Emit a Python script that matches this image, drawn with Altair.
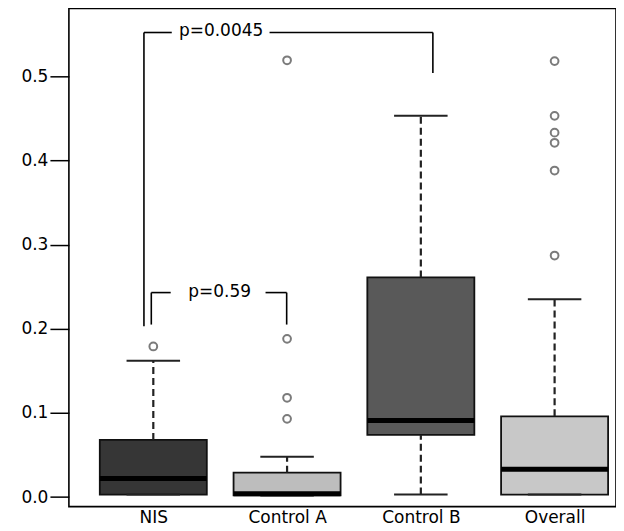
import altair as alt
import pandas as pd

# ---- data ----
groups = ["NIS", "Control A", "Control B", "Overall"]
q1 = [0.003, 0.002, 0.074, 0.003]
median = [0.022, 0.004, 0.091, 0.033]
q3 = [0.068, 0.029, 0.261, 0.096]
whisker_low = [0.003, 0.002, 0.003, 0.003]
whisker_high = [0.162, 0.048, 0.453, 0.235]
fills = ["#363636", "#bdbdbd", "#595959", "#c8c8c8"]
outliers = [
    [0.179],
    [0.093, 0.118, 0.188, 0.519],
    [],
    [0.287, 0.388, 0.421, 0.433, 0.453, 0.518],
]

# significance brackets
br_label = ["p=0.0045", "p=0.59"]
br_x1 = [0.93, 0.985]
br_x2 = [3.09, 1.997]
br_y = [0.552, 0.243]
br_left_end = [0.203, 0.205]
br_right_end = [0.504, 0.205]
br_text_x = [1.507, 1.496]
br_gap_lo = [1.138, 1.130]
br_gap_hi = [1.869, 1.839]

# ---- tables ----
pos = list(range(1, len(groups) + 1))
boxes = pd.DataFrame({
    "group": groups, "pos": pos, "q1": q1, "median": median, "q3": q3,
    "lo": whisker_low, "hi": whisker_high, "fill": fills,
})
pts = pd.DataFrame(
    [{"pos": p, "value": v} for p, vals in zip(pos, outliers) for v in vals]
)
legs = pd.DataFrame({
    "x": br_x1 + br_x2,
    "y": br_y + br_y,
    "y2": br_left_end + br_right_end,
})
hsegs = pd.DataFrame({
    "x": br_x1 + br_gap_hi,
    "x2": br_gap_lo + br_x2,
    "y": br_y + br_y,
})
labels = pd.DataFrame({"x": br_text_x, "y": br_y, "label": br_label})

XDOM = [0.369, 4.459]
YDOM = [-0.0113, 0.5806]
FONT = "DejaVu Sans"
FS = 17

label_expr = "{" + ",".join(f"'{p}':'{g}'" for p, g in zip(pos, groups)) + "}[datum.value]"

x_axis = alt.Axis(values=pos, labelExpr=label_expr, title=None,
                  domain=False, ticks=False, grid=False,
                  labelFontSize=FS, labelFont=FONT, labelColor="black",
                  labelPadding=3)
y_axis = alt.Axis(values=[0, 0.1, 0.2, 0.3, 0.4, 0.5], format=".1f",
                  title=None, domain=False, grid=False,
                  tickSize=19, tickColor="black", tickWidth=1.5,
                  labelFontSize=FS, labelFont=FONT, labelColor="black",
                  labelPadding=2)

xs = alt.Scale(domain=XDOM, nice=False, zero=False)
ys = alt.Scale(domain=YDOM, nice=False, zero=False)


def X(f):
    return alt.X(f, scale=xs, axis=x_axis)


def Y(f):
    return alt.Y(f, scale=ys, axis=y_axis)


base = alt.Chart(boxes)
spans = base.transform_calculate(
    a="datum.pos - 0.4", b="datum.pos + 0.4",
    ca="datum.pos - 0.2", cb="datum.pos + 0.2",
)

rects = spans.mark_rect(stroke="#111111", strokeWidth=1.8).encode(
    x=X("a:Q"), x2="b:Q", y=Y("q1:Q"), y2="q3:Q",
    fill=alt.Fill("fill:N", scale=None))
whisk_up = base.mark_rule(color="#222222", strokeWidth=2.2, strokeDash=[7, 4]).encode(
    x=X("pos:Q"), y=Y("q3:Q"), y2="hi:Q")
whisk_dn = base.mark_rule(color="#222222", strokeWidth=2.2, strokeDash=[7, 4]).encode(
    x=X("pos:Q"), y=Y("lo:Q"), y2="q1:Q")
caps_hi = spans.mark_rule(color="#222222", strokeWidth=2).encode(
    x=X("ca:Q"), x2="cb:Q", y=Y("hi:Q"))
caps_lo = spans.mark_rule(color="#222222", strokeWidth=2).encode(
    x=X("ca:Q"), x2="cb:Q", y=Y("lo:Q"))
meds = spans.mark_rule(color="black", strokeWidth=5).encode(
    x=X("a:Q"), x2="b:Q", y=Y("median:Q"))

outl = alt.Chart(pts).mark_point(shape="circle", filled=False, size=60,
                                 color="#444444", strokeWidth=2).encode(
    x=X("pos:Q"), y=Y("value:Q"))

bleg = alt.Chart(legs).mark_rule(color="black", strokeWidth=1.6).encode(
    x=X("x:Q"), y=Y("y:Q"), y2="y2:Q")
bh = alt.Chart(hsegs).mark_rule(color="black", strokeWidth=1.6).encode(
    x=X("x:Q"), x2="x2:Q", y=Y("y:Q"))
btxt = alt.Chart(labels).mark_text(font=FONT, fontSize=FS, color="black",
                                   baseline="middle", align="center", dy=-1).encode(
    x=X("x:Q"), y=Y("y:Q"), text="label:N")

chart = alt.layer(
    rects, whisk_up, whisk_dn, caps_hi, caps_lo, meds, outl, bleg, bh, btxt
).properties(
    width=548, height=499,
    background="white",
    autosize=alt.AutoSizeParams(type="none"),
    padding={"left": 61, "top": 0, "right": 0, "bottom": 30},
).configure_view(
    stroke="black", strokeWidth=1.6, fill="white"
)

chart.save("out.html", embed_options={"renderer": "svg", "actions": False})
